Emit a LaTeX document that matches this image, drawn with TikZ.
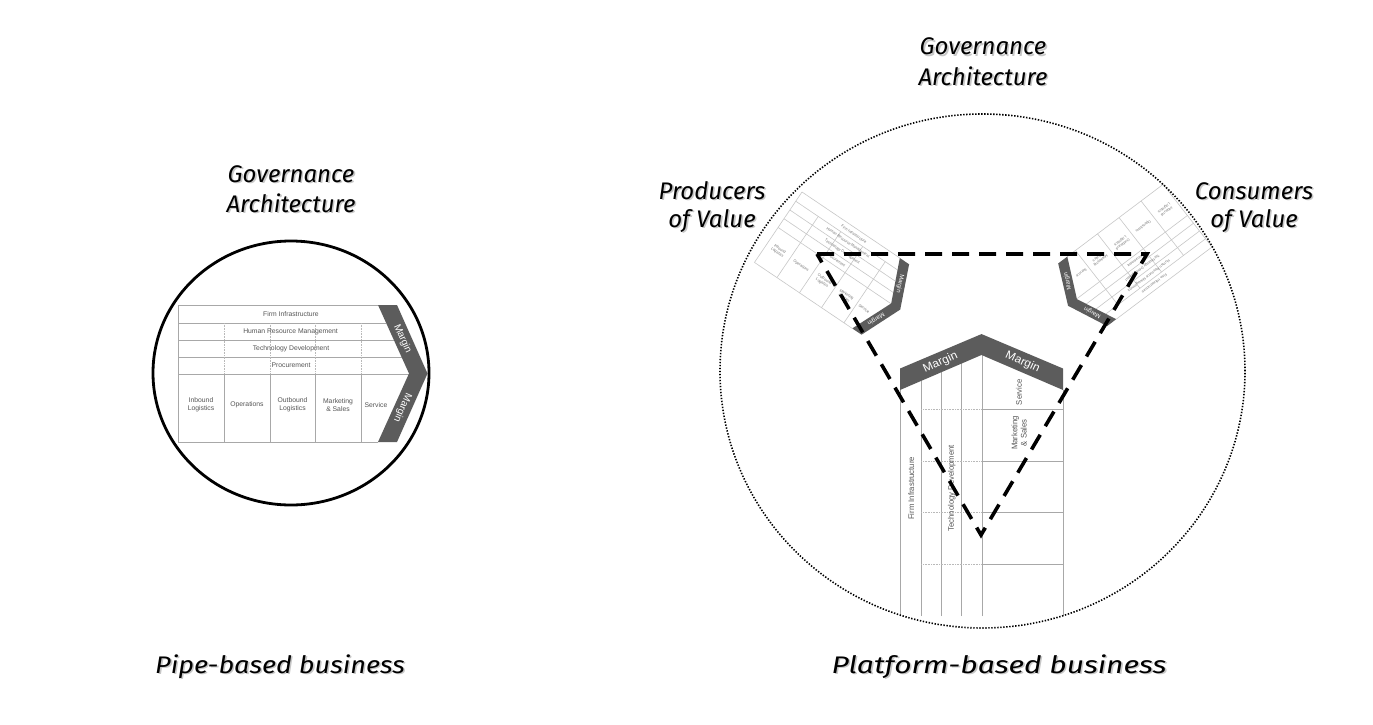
\documentclass[tikz,border=0pt]{standalone}
\usepackage{fontspec}
\newfontfamily\hand{Fira Sans}
\newfontfamily\arialf{Liberation Sans}
\definecolor{chev}{HTML}{5C5C5C}
\definecolor{vcl}{HTML}{A8A8A8}
\definecolor{vct}{HTML}{555555}
\tikzset{
  vcline/.style={draw=vcl, line width=0.8pt},
  vcdot/.style={draw=vcl!80, line width=0.8pt, dash pattern=on 0.8pt off 0.8pt},
  vctext/.style={font=\arialf\fontsize{6.8}{7.8}\selectfont, text=vct, align=center, inner sep=0pt},
  vcmargin/.style={font=\arialf\fontsize{10}{11}\selectfont, text=white, inner sep=0pt},
  vcchev/.style={fill=chev},
  titlefont/.style={font=\hand\itshape\fontsize{24}{28}\selectfont, inner sep=0pt},
  smallchain/.style={vcline/.style={draw=black!22, line width=0.6pt},
    vcdot/.style={draw=black!22, line width=0.6pt},
    vctext/.style={font=\arialf\fontsize{6.2}{7.2}\selectfont, text=black!55, align=center, inner sep=0pt}},
  triline/.style={line width=3.6pt, dash pattern=on 17pt off 10pt},
}
\newcommand{\vcframe}[1]{%
  \draw[vcline] (200,0) -- (0,0);
  \draw[vcline] (0,137) -- (200,137);
  \draw[vcline] (0,18) -- (208.1,18) (0,35) -- (215.8,35) (0,52) -- (223.5,52) (0,69) -- (230.8,69);
  \foreach \xx in {46,92,137,183} {\draw[vcline] (\xx,69) -- (\xx,137); \draw[vcdot] (\xx,18) -- (\xx,69);}
  \fill[vcchev] (200,0) -- (219,0) -- (249.5,68.5) -- (219,137) -- (200,137) -- (231,68.5) -- cycle;
  \node[vcmargin, rotate=-66] (#1m1) at (224.5,34) {Margin};
  \node[vcmargin, rotate=-114] (#1m2) at (224.5,103) {Margin};}
\newcommand{\vcend}{\draw[vcline] (0,0) -- (0,137);}
\newcommand{\vcsupport}[1]{%
  \node[vctext] (#1fi) at (113,9.5) {Firm Infrastructure};
  \node[vctext] (#1hr) at (112.5,26.5) {Human Resource Management};
  \node[vctext] (#1td) at (113,43.5) {Technology Development};
  \node[vctext] (#1pr) at (113,60.5) {Procurement};}
\newcommand{\vcprimary}[1]{%
  \node[vctext] (#1il) at (23,100) {Inbound\\Logistics};
  \node[vctext] (#1op) at (69,100) {Operations};
  \node[vctext] (#1ol) at (114.5,100) {Outbound\\Logistics};
  \node[vctext] (#1ms) at (160,100) {Marketing\\\& Sales};
  \node[vctext] (#1sv) at (198,100) {Service};}
\newcommand{\htitle}[3]{%
  \node[titlefont, text=black!22, anchor=base, xshift=1.6pt, yshift=-1.6pt] (#1s) at (#2) {#3};
  \node[titlefont, anchor=base] (#1) at (#2) {#3};}
\begin{document}
\begin{tikzpicture}[x=1pt,y=-1pt]
\useasboundingbox (0,0) rectangle (1373,725);
\fill[white] (0,0) rectangle (1373,725);

% ---------- Pipe-based business ----------
\begin{scope}[cm={1,0,0,1,(178,305)}]
  \vcframe{l}\vcend\vcsupport{l}\vcprimary{l}
\end{scope}
\draw[line width=2.8pt] (291,373) ellipse [x radius=138pt, y radius=132pt];

% ---------- Platform-based business ----------
% producers chain
\begin{scope}[cm={0.489,-0.330,0.347,0.514,(802,192)}, transform shape, smallchain]
  \vcframe{p}\vcend\vcsupport{p}\vcprimary{p}
\end{scope}
% consumers chain
\begin{scope}[cm={-0.479,-0.361,0.357,-0.457,(1212,247)}, transform shape, smallchain]
  \vcframe{c}\vcend\vcsupport{c}\vcprimary{c}
\end{scope}
% central chain
\begin{scope}[cm={0,1.13,-1.19,0,(900,616)}, transform shape]
  \vcframe{b}
  \node[vctext] (bfi) at (113,9.5) {Firm Infrastructure};
  \node[vctext] (btd) at (113,43.5) {Technology Development};
  \node[vctext] (bms) at (162,100) {Marketing\\\& Sales};
  \node[vctext] (bsv) at (198,100) {Service};
\end{scope}

\draw[line width=1.6pt, dash pattern=on 1.4pt off 1.6pt] (982.5,371) ellipse [x radius=262.5pt, y radius=257pt];

\coordinate (t1) at (817,254);
\coordinate (t2) at (1147,254);
\coordinate (t3) at (981,535);
\draw[triline] (t1) -- (t2) -- (t3) -- cycle;

% ---------- titles ----------
\htitle{gl1}{291,182}{Governance}
\htitle{gl2}{291,212}{Architecture}
\htitle{gr1}{983,55}{Governance}
\htitle{gr2}{983,85}{Architecture}
\htitle{pr1}{712,199}{Producers}
\htitle{pr2}{712,227}{of Value}
\htitle{cv1}{1254,199}{Consumers}
\htitle{cv2}{1254,227}{of Value}
\htitle{pb}{280,673}{\scalebox{1.13}[1]{Pipe-based business}}
\htitle{plb}{999,673}{\scalebox{1.25}[1]{Platform-based business}}
\end{tikzpicture}
\end{document}
